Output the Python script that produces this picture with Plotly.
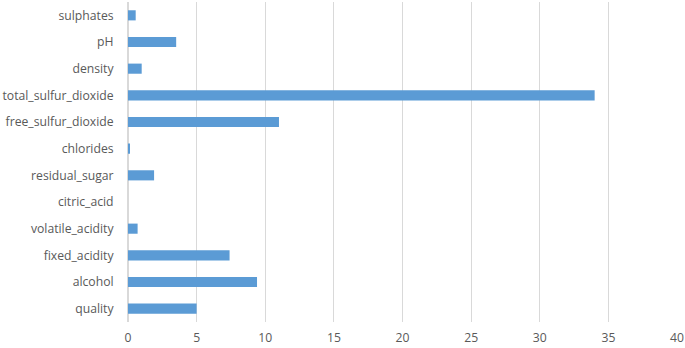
import plotly.graph_objects as go

categories = ["quality", "alcohol", "fixed_acidity", "volatile_acidity", "citric_acid",
              "residual_sugar", "chlorides", "free_sulfur_dioxide", "total_sulfur_dioxide",
              "density", "pH", "sulphates"]
values = [5, 9.4, 7.4, 0.7, 0, 1.9, 0.076, 11, 34, 0.9978, 3.51, 0.56]
x_ticks = [0, 5, 10, 15, 20, 25, 30, 35, 40]

fig = go.Figure(go.Bar(
    x=values, y=categories, orientation="h",
    marker=dict(color="#5b9bd5", line=dict(width=0)),
    hoverinfo="x+y",
))
fig.update_layout(
    width=685, height=348,
    margin=dict(l=128, r=8, t=2, b=26, autoexpand=False),
    paper_bgcolor="white", plot_bgcolor="white",
    bargap=0.62,
    showlegend=False,
    font=dict(family="Open Sans, Liberation Sans, sans-serif", size=12.2, color="#595959"),
)
fig.update_xaxes(range=[0, 40], tickvals=x_ticks, showgrid=True, gridcolor="#d9d9d9",
                 gridwidth=1, zeroline=True, zerolinecolor="#d9d9d9", showline=False,
                 ticks="outside", ticklen=4, tickcolor="rgba(0,0,0,0)", automargin=False)
fig.update_yaxes(categoryorder="array", categoryarray=categories, showgrid=False,
                 ticks="outside", ticklen=11, tickcolor="rgba(0,0,0,0)", showline=False,
                 automargin=False)
fig.write_html("out.html", config={"displayModeBar": False},
               post_script="document.body.style.margin='0';document.body.style.overflow='hidden';")
